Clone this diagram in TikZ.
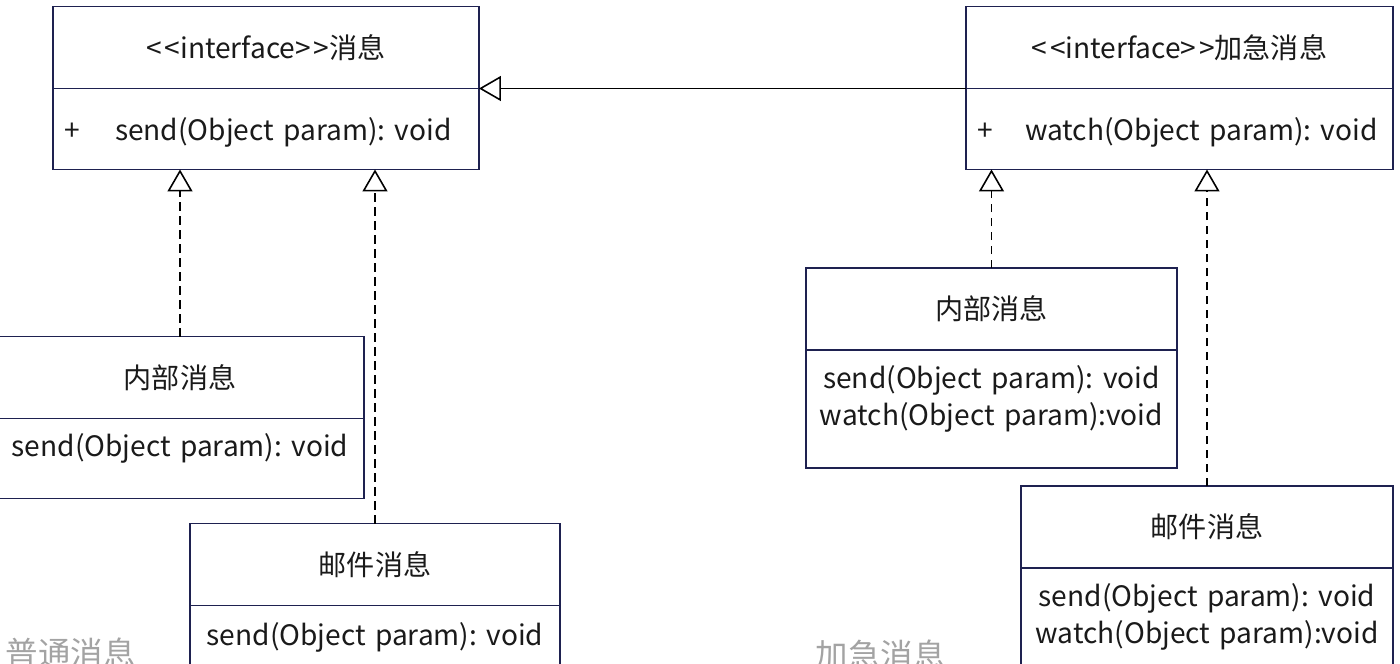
\documentclass[tikz,border=0pt]{standalone}
\usepackage{fontspec}
\setmainfont{Noto Sans CJK SC}
\usetikzlibrary{arrows.meta,positioning}
\definecolor{umlline}{HTML}{1E2150}
\definecolor{umltext}{HTML}{1A1A1A}
\definecolor{pkggray}{HTML}{A3A3A3}
\newcommand{\stereo}[1]{<\kern1.5pt<#1>\kern1.5pt>}
\frenchspacing
\begin{document}
\begin{tikzpicture}[x=0.02cm,y=-0.02cm,
    every node/.style={font=\fontsize{16}{21}\selectfont,text=umltext,outer sep=0pt},
    classhead/.style={draw=umlline,line width=1.1pt,minimum height=1.64cm,inner sep=0pt},
    classbody/.style={draw=umlline,line width=1.1pt,inner ysep=0pt,inner xsep=0.2cm,align=center},
    realize/.style={line width=0.9pt,dash pattern=on 0.17cm off 0.11cm,
        -{Triangle[open,length=0.44cm,width=0.5cm,fill=white]}},
    extend/.style={line width=0.9pt,-{Triangle[open,length=0.44cm,width=0.5cm,fill=white]}},
    pkglabel/.style={font=\fontsize{18.5}{22}\selectfont,text=pkggray}]
    \useasboundingbox (0,0) rectangle (1400,663);
    \clip (0,0) rectangle (1400,663);
    % interfaces
    \node[classhead,minimum width=8.52cm] (msgHead) at (266,47.5) {\stereo{interface}消息};
    \node[classbody,below=0pt of msgHead,text width=8.08cm,inner xsep=0.22cm,align=left,
        text height=1.05cm,text depth=0.57cm] (msgBody) {\makebox[1.02cm][l]{+}send(Object param): void};
    \node[classhead,minimum width=8.54cm] (urgHead) at (1179.5,47.5) {\stereo{interface}加急消息};
    \node[classbody,below=0pt of urgHead,text width=8.1cm,inner xsep=0.22cm,align=left,
        text height=1.05cm,text depth=0.57cm] (urgBody) {\makebox[0.96cm][l]{+}watch(Object param): void};
    % classes
    \node[classhead,minimum width=7.36cm] (inLHead) at (180,377.5) {内部消息};
    \node[classbody,below=0pt of inLHead,text width=6.96cm,text height=0.77cm,text depth=0.83cm] (inLBody)
        {send(Object param): void};
    \node[classhead,minimum width=7.40cm] (mailLHead) at (375,564.5) {邮件消息};
    \node[classbody,below=0pt of mailLHead,text width=7.0cm,text height=0.80cm,text depth=0.90cm] (mailLBody)
        {send(Object param): void};
    \node[classhead,minimum width=7.42cm] (inRHead) at (991.5,309) {内部消息};
    \node[classbody,below=0pt of inRHead,text width=7.02cm,text height=0.78cm,text depth=1.58cm] (inRBody)
        {send(Object param): void\\watch(Object param):void};
    \node[classhead,minimum width=7.44cm] (mailRHead) at (1207,527) {邮件消息};
    \node[classbody,below=0pt of mailRHead,text width=7.04cm,text height=0.78cm,text depth=1.66cm] (mailRBody)
        {send(Object param): void\\watch(Object param):void};
    % relations
    \draw[extend] (urgBody.north west) -- (msgBody.north east);
    \foreach \cls/\iface in {inL/msg,mailL/msg,inR/urg,mailR/urg}
        \draw[realize] (\cls Head.north) -- (\cls Head.north |- \iface Body.south);
    % package captions
    \node[pkglabel,anchor=west] (plainLbl) at (0,653) {普通消息};
    \node[pkglabel,anchor=west] (urgentLbl) at (810,655) {加急消息};
\end{tikzpicture}
\end{document}
